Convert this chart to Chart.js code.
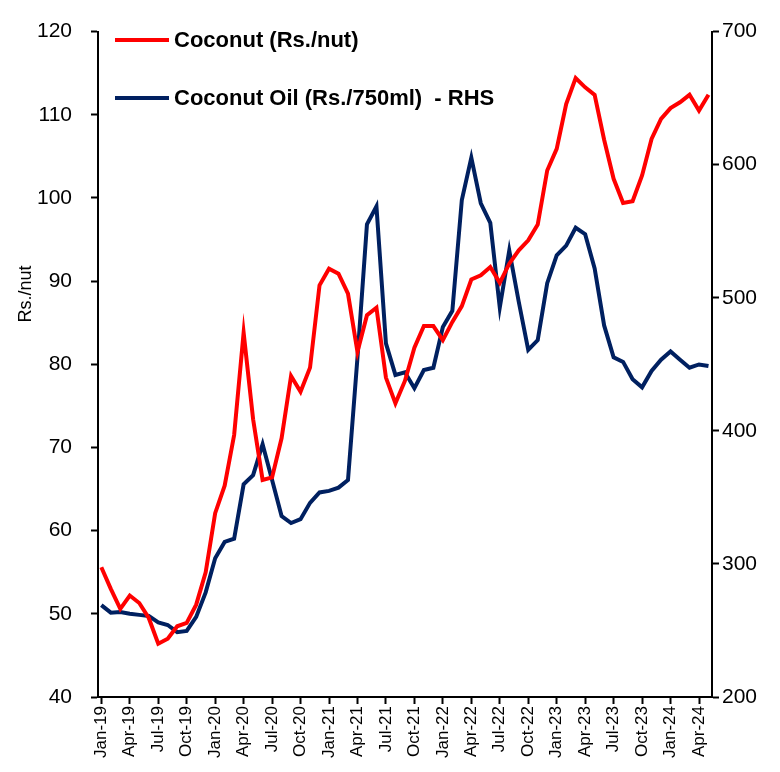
<!DOCTYPE html>
<html>
<head>
<meta charset="utf-8">
<script src="https://cdn.jsdelivr.net/npm/chart.js@4/dist/chart.umd.min.js"></script>
<style>
html,body{margin:0;padding:0;background:#fff;}
#wrap{width:780px;height:772px;position:relative;}
</style>
</head>
<body>
<div id="wrap"><canvas id="c" width="780" height="772"></canvas></div>
<script>
const months = [
  'Jan-19','Feb-19','Mar-19','Apr-19','May-19','Jun-19','Jul-19','Aug-19','Sep-19','Oct-19','Nov-19','Dec-19',
  'Jan-20','Feb-20','Mar-20','Apr-20','May-20','Jun-20','Jul-20','Aug-20','Sep-20','Oct-20','Nov-20','Dec-20',
  'Jan-21','Feb-21','Mar-21','Apr-21','May-21','Jun-21','Jul-21','Aug-21','Sep-21','Oct-21','Nov-21','Dec-21',
  'Jan-22','Feb-22','Mar-22','Apr-22','May-22','Jun-22','Jul-22','Aug-22','Sep-22','Oct-22','Nov-22','Dec-22',
  'Jan-23','Feb-23','Mar-23','Apr-23','May-23','Jun-23','Jul-23','Aug-23','Sep-23','Oct-23','Nov-23','Dec-23',
  'Jan-24','Feb-24','Mar-24','Apr-24','May-24'
];

// Coconut (Rs./nut) - left axis
const coconut = [
  55.6, 53.0, 50.6, 52.2, 51.3, 49.5, 46.4, 47.0, 48.5, 48.9, 51.1, 55.0,
  62.1, 65.4, 71.5, 83.8, 73.4, 66.1, 66.4, 71.1, 78.6, 76.7, 79.6, 89.5,
  91.5, 90.9, 88.5, 81.5, 85.9, 86.8, 78.4, 75.3, 78.0, 82.0, 84.6, 84.6,
  82.9, 85.1, 87.0, 90.2, 90.7, 91.7, 89.8, 92.1, 93.7, 94.9, 96.8, 103.3,
  105.9, 111.3, 114.4, 113.3, 112.4, 107.0, 102.3, 99.4, 99.6, 102.7, 107.1, 109.5,
  110.8, 111.5, 112.4, 110.5, 112.4
];

// Coconut Oil (Rs./750ml) - right axis
const coconutOil = [
  269, 263.4, 263.9, 262.6, 261.7, 260.9, 256, 254.1, 248.7, 249.7, 260.2, 278.6,
  304.3, 316.5, 318.9, 359.8, 366.7, 389.9, 363, 336, 330.7, 333.6, 345.9, 353.7,
  354.9, 357.3, 363, 455, 555.1, 568.6, 465.8, 442, 444, 432, 445.7, 447.4,
  478, 490.2, 573.5, 605.3, 571, 556.3, 492.7, 535.5, 497, 460.9, 468.2, 511,
  531.9, 539.2, 552.6, 547.8, 522.1, 479.2, 455.3, 451.8, 438.8, 432.7, 445, 453.5,
  459.7, 453.5, 447.4, 449.9, 448.7
];

const seriesNames = ['Coconut (Rs./nut)', 'Coconut Oil (Rs./750ml)  - RHS'];
const seriesColors = ['#FF0000', '#002060'];
const leftTitle = 'Rs./nut';
const leftRange = [40, 120, 10];
const rightRange = [200, 700, 100];
const labelEvery = 3;

const FAMILY = '"Liberation Sans", Arial, Helvetica, sans-serif';

const overlay = {
  id: 'overlay',
  afterDraw(chart) {
    const ctx = chart.ctx;
    ctx.save();
    const rows = [40, 98];
    chart.data.datasets.forEach((ds, k) => {
      const y = rows[k];
      ctx.strokeStyle = ds.borderColor;
      ctx.lineWidth = 4;
      ctx.lineCap = 'butt';
      ctx.beginPath();
      ctx.moveTo(115, y);
      ctx.lineTo(169, y);
      ctx.stroke();
      ctx.fillStyle = '#000';
      ctx.font = 'bold 22px ' + FAMILY;
      ctx.textBaseline = 'middle';
      ctx.textAlign = 'left';
      ctx.fillText(ds.label, 174, y + 1);
    });
    ctx.translate(26, 294);
    ctx.rotate(-Math.PI / 2);
    ctx.fillStyle = '#000';
    ctx.font = '18px ' + FAMILY;
    ctx.textAlign = 'center';
    ctx.textBaseline = 'middle';
    ctx.fillText(leftTitle, 0, 0);
    ctx.restore();
  }
};

const axisGrid = {
  drawOnChartArea: false,
  drawTicks: true,
  tickLength: 7,
  tickColor: '#000',
  tickWidth: 2
};
const axisBorder = { display: true, color: '#000', width: 2 };

new Chart(document.getElementById('c'), {
  type: 'line',
  data: {
    datasets: [
      {
        label: seriesNames[0],
        data: coconut.map((v, i) => ({ x: i, y: v })),
        borderColor: seriesColors[0],
        backgroundColor: seriesColors[0],
        borderWidth: 4,
        pointRadius: 0,
        tension: 0,
        yAxisID: 'y'
      },
      {
        label: seriesNames[1],
        data: coconutOil.map((v, i) => ({ x: i, y: v })),
        borderColor: seriesColors[1],
        backgroundColor: seriesColors[1],
        borderWidth: 4,
        pointRadius: 0,
        tension: 0,
        yAxisID: 'y2'
      }
    ]
  },
  options: {
    responsive: false,
    animation: false,
    devicePixelRatio: 1,
    layout: { padding: { top: 16, left: 0, right: 0, bottom: 0 } },
    plugins: { legend: { display: false }, tooltip: { enabled: false } },
    scales: {
      x: {
        type: 'linear',
        min: -0.35,
        max: months.length - 1 + 0.37,
        afterBuildTicks: (s) => {
          s.ticks = months.map((m, i) => ({ value: i })).filter(t => t.value % labelEvery === 0);
        },
        ticks: {
          callback: (v) => months[v],
          autoSkip: false,
          maxRotation: 90,
          minRotation: 90,
          color: '#000',
          padding: 2,
          font: { size: 17, family: FAMILY }
        },
        grid: axisGrid,
        border: axisBorder,
        afterFit: (s) => { s.height = 75; }
      },
      y: {
        position: 'left',
        min: leftRange[0],
        max: leftRange[1],
        ticks: {
          stepSize: leftRange[2],
          color: '#000',
          padding: 19,
          font: { size: 21, family: FAMILY }
        },
        grid: axisGrid,
        border: axisBorder,
        afterFit: (s) => { s.width = 98; }
      },
      y2: {
        position: 'right',
        min: rightRange[0],
        max: rightRange[1],
        ticks: {
          stepSize: rightRange[2],
          color: '#000',
          padding: 3,
          font: { size: 21, family: FAMILY }
        },
        grid: axisGrid,
        border: axisBorder,
        afterFit: (s) => { s.width = 68; }
      }
    }
  },
  plugins: [overlay]
});
</script>
</body>
</html>
